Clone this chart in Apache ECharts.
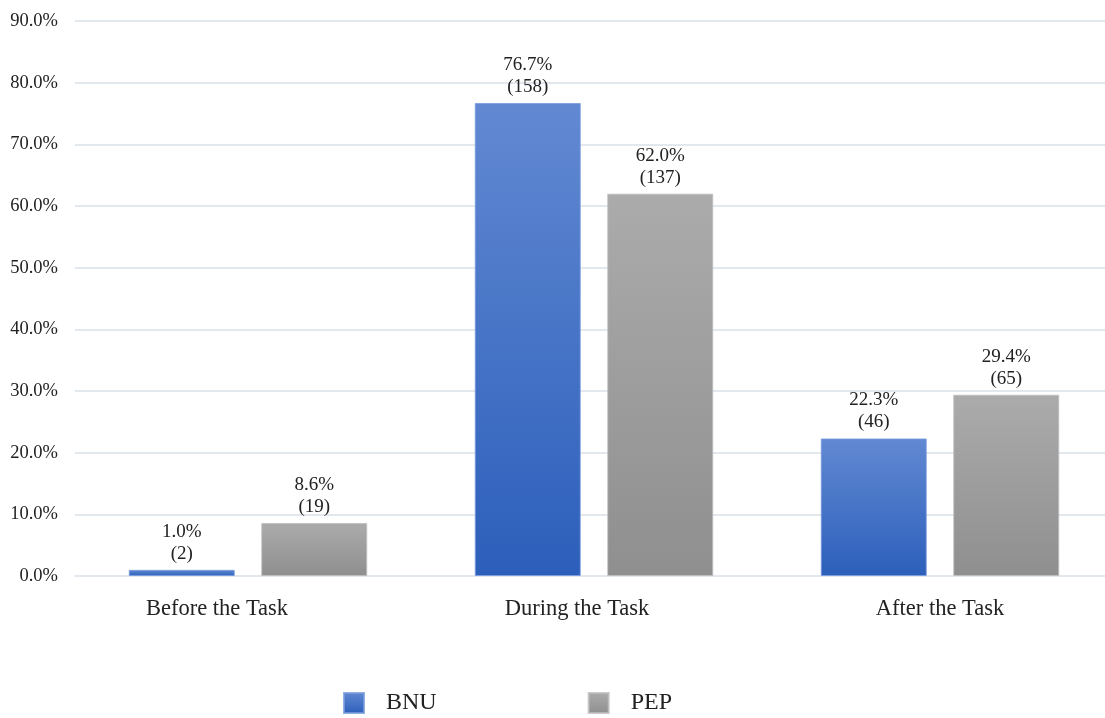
<!DOCTYPE html>
<html>
<head>
<meta charset="utf-8">
<script src="https://cdn.jsdelivr.net/npm/echarts@6/dist/echarts.min.js"></script>
<style>
  html, body { margin: 0; padding: 0; background: #fff; }
  #chart { width: 1105px; height: 718px; }
</style>
</head>
<body>
<div id="chart"></div>
<script>
// Share of responses by phase, per textbook group
const categories = ['Before the Task', 'During the Task', 'After the Task'];
const bnuPercent = [1.0, 76.7, 22.3];
const bnuCount = [2, 158, 46];
const pepPercent = [8.6, 62.0, 29.4];
const pepCount = [19, 137, 65];
const seriesNames = ['BNU', 'PEP'];

const FONT = '"Liberation Serif", "DejaVu Serif", serif';

// right-padding per category label, nudging each label left of its band centre
const labelNudge = [62, 34, 0];

function grad(top, bottom) {
  return new echarts.graphic.LinearGradient(0, 0, 0, 1, [
    { offset: 0, color: top },
    { offset: 1, color: bottom }
  ]);
}

function labelFor(counts) {
  return {
    show: true,
    position: 'top',
    distance: 5,
    color: '#222',
    fontFamily: FONT,
    fontSize: 19,
    lineHeight: 22,
    formatter: p => p.value.toFixed(1) + '%\n(' + counts[p.dataIndex] + ')'
  };
}

const chart = echarts.init(document.getElementById('chart'));
chart.setOption({
  animation: false,
  grid: { left: 75, top: 21, width: 1038, height: 555, outerBoundsMode: 'none' },
  legend: {
    data: seriesNames,
    left: 338,
    top: 686,
    icon: 'rect',
    itemWidth: 20,
    itemHeight: 20,
    itemGap: 151,
    textStyle: {
      fontFamily: FONT,
      fontSize: 24,
      color: '#222',
      padding: [0, 0, 0, 17]
    }
  },
  xAxis: {
    type: 'category',
    data: categories.map((name, i) => ({
      value: name,
      textStyle: { padding: [0, labelNudge[i], 0, 0] }
    })),
    axisLine: { show: true, lineStyle: { color: '#e3e7ee', width: 2 } },
    axisTick: { show: false },
    axisLabel: {
      margin: 22,
      color: '#222',
      fontFamily: FONT,
      fontSize: 22.5
    }
  },
  yAxis: {
    type: 'value',
    min: 0,
    max: 90,
    interval: 10,
    axisLine: { show: false },
    axisTick: { show: false },
    splitLine: { lineStyle: { color: '#e3e7ee', width: 2 } },
    axisLabel: {
      margin: 17,
      color: '#222',
      fontFamily: FONT,
      fontSize: 18.5,
      formatter: v => v.toFixed(1) + '%'
    }
  },
  series: [
    {
      name: seriesNames[0],
      type: 'bar',
      data: bnuPercent,
      barWidth: 106,
      barGap: '25%',
      itemStyle: {
        color: grad('#6289d2', '#2c5fbb'),
        borderColor: 'rgba(120,155,220,0.8)',
        borderWidth: 1
      },
      label: labelFor(bnuCount)
    },
    {
      name: seriesNames[1],
      type: 'bar',
      data: pepPercent,
      barWidth: 106,
      itemStyle: {
        color: grad('#ababab', '#8f8f8f'),
        borderColor: 'rgba(190,190,190,0.8)',
        borderWidth: 1
      },
      label: labelFor(pepCount)
    }
  ]
});
</script>
</body>
</html>
